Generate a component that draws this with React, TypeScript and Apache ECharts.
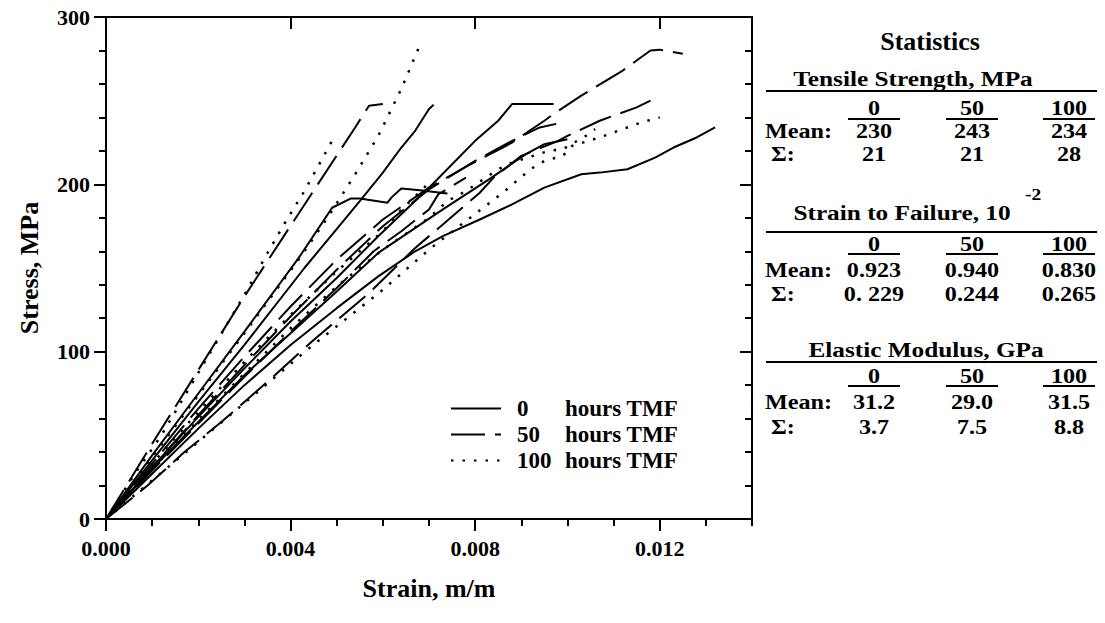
import React, { useEffect, useRef } from "react";
import * as echarts from "echarts";

// ---- data: [strain (m/m), stress (MPa)] ----
const s0a = [[0,0],[0.001,27],[0.002,54],[0.003,80],[0.004,104],[0.005,126],[0.0059,145],[0.0067,160],[0.0073,169],[0.0081,179],[0.0088,188],[0.0095,198],[0.0103,206],[0.0107,207],[0.0113,209],[0.0119,216],[0.0123,222],[0.0128,228],[0.0132,234]];
const s0b = [[0,0],[0.001,35],[0.002,70],[0.003,104],[0.0043,150],[0.0049,170],[0.0055,190],[0.006,207],[0.0064,222],[0.0067,232],[0.007,245],[0.0071,247.5]];
const s0c = [[0,0],[0.001,31],[0.002,61],[0.003,90],[0.004,118],[0.005,144],[0.0059,169],[0.007,198],[0.008,226],[0.0085,238],[0.0088,248],[0.0097,248]];
const s0d = [[0,0],[0.001,38],[0.002,75],[0.003,112],[0.0042,157],[0.0049,186],[0.0053,191.5],[0.0055,191.5],[0.0061,189],[0.0062,192.5],[0.0064,197.5],[0.0068,196.5],[0.0074,194.5]];
const s0e = [[0,0],[0.001,30],[0.002,58],[0.003,86],[0.004,111],[0.005,136],[0.0059,159],[0.0073,185],[0.0083,203],[0.0091,218],[0.0095,224],[0.01,227]];

const s50a = [[0,0],[0.001,45],[0.002,89],[0.003,133],[0.0039,171],[0.0044,192],[0.0054,234],[0.0057,247],[0.006,248]];
const s50b = [[0,0],[0.001,33],[0.002,66],[0.003,97],[0.004,127],[0.005,155],[0.006,179],[0.007,198],[0.0079,212],[0.0086,222],[0.0088,225],[0.0095,238],[0.0097,242],[0.0103,253],[0.0112,268],[0.0118,280],[0.012,280.5],[0.0125,278]];
const s50c = [[0,0],[0.0009,20],[0.0017,40],[0.0025,58],[0.0035,82],[0.0045,107],[0.0057,135],[0.0067,162],[0.0073,176],[0.0081,195],[0.0084,204],[0.009,217],[0.0098,226],[0.01,229],[0.0107,238],[0.011,241],[0.0115,246],[0.0118,250]];
const s50d = [[0,0],[0.001,31],[0.002,62],[0.003,92],[0.004,121],[0.005,149],[0.006,175],[0.007,197],[0.008,214],[0.0088,226],[0.0094,234],[0.0099,237]];
const s50e = [[0,0],[0.001,29],[0.002,57],[0.003,85],[0.004,112],[0.005,138],[0.0058,160],[0.0064,172],[0.007,185],[0.0072,194],[0.0078,204]];

const s100a = [[0,0],[0.0006,26],[0.0012,50],[0.0018,78],[0.0024,106],[0.003,134],[0.0035,159],[0.0039,178],[0.0043,196],[0.0049,226]];
const s100b = [[0,0],[0.001,37],[0.002,74],[0.003,111],[0.0042,156],[0.0048,180],[0.0054,206],[0.0059,229],[0.0064,257],[0.0068,283]];
const s100c = [[0,0],[0.0026,60],[0.0044,102],[0.006,137],[0.007,161],[0.0077,176],[0.0086,195],[0.0092,209],[0.0095,214],[0.0099,217],[0.0101,223],[0.0107,228],[0.0112,233],[0.0116,237],[0.012,240]];
const s100d = [[0,0],[0.001,30],[0.002,59],[0.003,87],[0.004,114],[0.005,139],[0.006,161],[0.007,180],[0.0074,190],[0.0078,196],[0.0085,209],[0.0088,213],[0.0096,220],[0.0099,221],[0.0104,229],[0.0106,233]];
const s100e = [[0,0],[0.001,33],[0.002,64],[0.003,94],[0.004,122],[0.005,148],[0.006,172],[0.0064,185],[0.0066,190],[0.007,201]];

const group0 = [s0a, s0b, s0c, s0d, s0e];
const group50 = [s50a, s50b, s50c, s50d, s50e];
const group100 = [s100a, s100b, s100c, s100d, s100e];

const groupNames = ["0", "50", "100"];

// statistics table
const tensileMean = ["230", "243", "234"];
const tensileSigma = ["21", "21", "28"];
const strainMean = ["0.923", "0.940", "0.830"];
const strainSigma = ["0. 229", "0.244", "0.265"];
const modulusMean = ["31.2", "29.0", "31.5"];
const modulusSigma = ["3.7", "7.5", "8.8"];

const FONT = "Liberation Serif";

function App() {
  const ref = useRef<HTMLDivElement>(null);
  useEffect(() => {
    if (!ref.current) return;
    const chart = echarts.init(ref.current, undefined, { renderer: "svg" });

    const styles: Record<string, any> = {
      "0": { type: "solid", width: 2 },
      "50": { type: [34, 10], width: 2 },
      "100": { type: [2.5, 9], width: 2.5 },
    };
    const series: any[] = [];
    [group0, group50, group100].forEach((g, gi) => {
      const name = groupNames[gi];
      g.forEach((d) => {
        series.push({
          type: "line",
          name,
          data: d,
          symbol: "none",
          showSymbol: false,
          xAxisIndex: 0,
          yAxisIndex: 0,
          lineStyle: { color: "#000", cap: "butt", ...styles[name] },
          itemStyle: { color: "#000" },
          emphasis: { disabled: true },
        });
      });
    });

    const cols = [874, 972, 1069];
    const scaleX = 1.15;
    const cell = (text: string, x: number, y: number, size = 21, align = "center") => ({
      type: "text",
      x,
      y,
      scaleX,
      style: {
        text,
        fontFamily: FONT,
        fontWeight: "bold",
        fontSize: size,
        fill: "#000",
        textAlign: align,
        textVerticalAlign: "middle",
        align,
        verticalAlign: "middle",
      },
    });
    const hline = (x1: number, x2: number, y: number) => ({
      type: "line",
      shape: { x1, y1: y, x2, y2: y },
      style: { stroke: "#000", lineWidth: 2 },
    });

    const section = (
      title: string,
      titleX: number,
      titleY: number,
      ruleY: number,
      headY: number,
      underY: number,
      meanY: number,
      sigY: number,
      mean: string[],
      sigma: string[]
    ) => {
      const els: any[] = [];
      els.push(cell(title, titleX, titleY, 22));
      els.push(hline(766, 1097, ruleY));
      groupNames.forEach((g, i) => {
        els.push(cell(g, cols[i], headY));
        els.push(hline(cols[i] - 26, cols[i] + 26, underY));
        els.push(cell(mean[i], cols[i], meanY));
        els.push(cell(sigma[i], cols[i], sigY));
      });
      els.push(cell("Mean:", 765, meanY, 21, "left"));
      els.push(cell("Σ:", 771, sigY, 21, "left"));
      return els;
    };

    const graphic: any[] = [
      {
        type: "text",
        x: 930,
        y: 41,
        style: {
          text: "Statistics",
          fontFamily: FONT,
          fontWeight: "bold",
          fontSize: 26,
          fill: "#000",
          textAlign: "center",
          textVerticalAlign: "middle",
          align: "center",
          verticalAlign: "middle",
        },
      },
      ...section("Tensile Strength, MPa", 913, 79, 91, 108, 119, 131, 154, tensileMean, tensileSigma),
      ...section("Strain to Failure, 10", 902, 213, 232, 244, 254, 270, 294, strainMean, strainSigma),
      cell("-2", 1025, 194, 17, "left"),
      ...section("Elastic Modulus, GPa", 926, 350, 362, 376, 386, 402, 427, modulusMean, modulusSigma),
    ];

    const axisLine = { show: true, onZero: false, lineStyle: { color: "#000", width: 2 } };
    const tickStyle = { color: "#000", width: 2 };
    const xBase = { type: "value", min: 0, max: 0.014, splitLine: { show: false }, gridIndex: 0 };

    const option: any = {
      animation: false,
      backgroundColor: "#fff",
      textStyle: { fontFamily: FONT },
      grid: { left: 106, right: 353, top: 17, bottom: 104, containLabel: false },
      legend: {
        left: 445,
        top: 392,
        orient: "vertical",
        itemWidth: 50,
        itemHeight: 14,
        itemGap: 3,
        data: groupNames,
        selectedMode: false,
        itemStyle: { color: "rgba(0,0,0,0)", borderWidth: 0, opacity: 0 },
        formatter: (n: string) => `{a|${n}}{b|hours TMF}`,
        textStyle: {
          color: "#000",
          fontFamily: FONT,
          fontWeight: "bold",
          fontSize: 23,
          lineHeight: 22,
          rich: {
            a: { width: 48, padding: [0, 0, 0, 11], fontFamily: FONT, fontWeight: "bold", fontSize: 23, lineHeight: 22, color: "#000" },
            b: { fontFamily: FONT, fontWeight: "bold", fontSize: 23, lineHeight: 22, color: "#000" },
          },
        },
      },
      xAxis: [
        {
          ...xBase,
          position: "bottom",
          interval: 0.004,
          axisLine,
          axisTick: { show: true, inside: false, length: 12, lineStyle: tickStyle },
          axisLabel: {
            show: true,
            margin: 18,
            showMaxLabel: false,
            formatter: (v: number) => v.toFixed(3),
            color: "#000",
            fontFamily: FONT,
            fontWeight: "bold",
            fontSize: 22,
          },
          name: "Strain, m/m",
          nameLocation: "middle",
          nameGap: 56,
          nameTextStyle: { color: "#000", fontFamily: FONT, fontWeight: "bold", fontSize: 26 },
        },
        {
          ...xBase,
          position: "bottom",
          interval: 0.001,
          axisLine: { show: false },
          axisTick: { show: true, inside: false, length: 7, lineStyle: tickStyle },
          axisLabel: { show: false },
        },
        {
          ...xBase,
          position: "top",
          interval: 0.004,
          axisLine,
          axisTick: { show: true, inside: true, length: 12, lineStyle: tickStyle },
          axisLabel: { show: false },
        },
        {
          ...xBase,
          position: "top",
          interval: 0.001,
          axisLine: { show: false },
          axisTick: { show: true, inside: true, length: 7, lineStyle: tickStyle },
          axisLabel: { show: false },
        },
      ],
      yAxis: [
        {
          type: "value",
          position: "left",
          min: 0,
          max: 300,
          interval: 100,
          splitLine: { show: false },
          axisLine,
          axisTick: { show: true, inside: false, length: 12, lineStyle: tickStyle },
          minorTick: { show: true, splitNumber: 5, length: 7, lineStyle: tickStyle },
          minorSplitLine: { show: false },
          axisLabel: {
            margin: 16,
            color: "#000",
            fontFamily: FONT,
            fontWeight: "bold",
            fontSize: 22,
          },
          name: "Stress, MPa",
          nameLocation: "middle",
          nameGap: 64,
          nameRotate: 90,
          nameTextStyle: { color: "#000", fontFamily: FONT, fontWeight: "bold", fontSize: 26 },
        },
        {
          type: "value",
          position: "right",
          min: 0,
          max: 300,
          interval: 100,
          splitLine: { show: false },
          axisLine,
          axisTick: { show: true, inside: true, length: 12, lineStyle: tickStyle },
          minorTick: { show: true, splitNumber: 5, length: 7, lineStyle: tickStyle },
          minorSplitLine: { show: false },
          axisLabel: { show: false },
        },
      ],
      series,
      graphic,
    };
    chart.setOption(option);
    return () => chart.dispose();
  }, []);
  return (
    <div
      ref={ref}
      style={{ position: "fixed", left: 0, top: 0, width: 1105, height: 623, background: "#fff" }}
    />
  );
}

export default App;
